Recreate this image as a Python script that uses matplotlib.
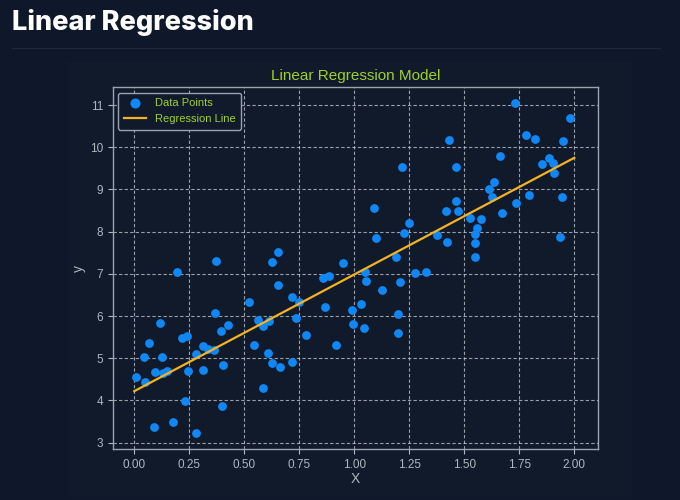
import matplotlib
matplotlib.use("Agg")
import matplotlib.pyplot as plt
from matplotlib.patches import Rectangle
from matplotlib.lines import Line2D

# ---- data ----
x_points = [
    0.370, 0.627, 0.947, 0.195, 0.652, 0.858, 0.883, 0.520, 0.719, 0.750,
    0.867, 0.990, 0.365, 0.117, 0.427, 0.392, 0.562, 0.611, 0.586, 0.734,
    0.780, 0.215, 0.238, 0.068, 0.312, 0.336, 0.364, 0.544, 0.915, 0.042,
    0.127, 0.280, 0.609, 0.010, 0.049, 0.093, 0.132, 0.149, 0.245, 0.312,
    0.402, 0.625, 0.663, 0.715, 0.584, 0.232, 0.399, 0.177, 0.088, 0.282,
    0.652, 1.250, 1.227, 1.097, 1.374, 1.189, 1.050, 1.277, 1.326, 1.053,
    1.208, 1.126, 1.032, 1.199, 0.993, 1.043, 1.199,
    1.730, 1.979, 1.430, 1.780, 1.823, 1.947, 1.217, 1.463, 1.662, 1.851,
    1.883, 1.905, 1.909, 1.636, 1.610, 1.624, 1.793, 1.943, 1.736, 1.670,
    1.088, 1.463, 1.417, 1.471, 1.527, 1.577, 1.556, 1.549, 1.420, 1.549,
    1.549, 1.936,
]
y_points = [
    7.30, 7.27, 7.25, 7.04, 6.74, 6.91, 6.95, 6.34, 6.45, 6.34,
    6.21, 6.14, 6.08, 5.83, 5.79, 5.65, 5.91, 5.89, 5.76, 5.96,
    5.56, 5.49, 5.53, 5.36, 5.29, 5.23, 5.20, 5.31, 5.32, 5.04,
    5.04, 5.10, 5.13, 4.56, 4.43, 4.68, 4.66, 4.70, 4.70, 4.72,
    4.85, 4.89, 4.80, 4.91, 4.30, 3.98, 3.87, 3.48, 3.36, 3.24,
    7.51, 8.21, 7.96, 7.86, 7.91, 7.40, 7.05, 7.01, 7.05, 6.82,
    6.80, 6.62, 6.28, 6.04, 5.80, 5.72, 5.61,
    11.04, 10.70, 10.18, 10.30, 10.20, 10.14, 9.53, 9.53, 9.79, 9.60,
    9.74, 9.63, 9.40, 9.18, 9.00, 8.83, 8.86, 8.83, 8.67, 8.45,
    8.56, 8.72, 8.50, 8.49, 8.32, 8.29, 8.09, 7.95, 7.75, 7.73,
    7.40, 7.88,
]
line_x = [0.0, 2.0]
line_y = [4.22, 9.75]

page_title = "Linear Regression"
chart_title = "Linear Regression Model"
x_label = "X"
y_label = "y"
legend_labels = ["Data Points", "Regression Line"]
x_ticks = [0.00, 0.25, 0.50, 0.75, 1.00, 1.25, 1.50, 1.75, 2.00]
y_ticks = [3, 4, 5, 6, 7, 8, 9, 10, 11]

# ---- style ----
PAGE_BG = "#0f172a"
PANEL_BG = "#111a2b"
GRID = "#c8cdd4"
TEXT_GRAY = "#aeb6c0"
GREEN = "#9fd12a"
BLUE = "#0f87f5"
ORANGE = "#f3b323"

plt.rcParams['font.family'] = ['Liberation Sans', 'DejaVu Sans']

W, H = 680, 500
fig = plt.figure(figsize=(W / 100, H / 100), dpi=100)
fig.patch.set_facecolor(PAGE_BG)

# page title
fig.text(12 / W, 1 - 22 / H, page_title, color="white", fontsize=19.5,
         fontweight="heavy", family=["Inter", "DejaVu Sans"],
         ha="left", va="center")
# separator line
fig.add_artist(Line2D([12 / W, 660 / W], [1 - 48 / H, 1 - 48 / H],
                      transform=fig.transFigure, color="#1f2a3c", lw=0.8))
# chart panel
fig.add_artist(Rectangle((68 / W, 1 - 497 / H), (632 - 68) / W, (497 - 62) / H,
                         transform=fig.transFigure, facecolor=PANEL_BG,
                         edgecolor="none", zorder=0))

ax = fig.add_axes([112.7 / W, 1 - 449 / H, (598.3 - 112.7) / W, (449 - 87.3) / H])
ax.set_facecolor(PANEL_BG)

ax.scatter(x_points, y_points, s=40, color=BLUE, label=legend_labels[0],
           zorder=3, linewidths=0)
ax.plot(line_x, line_y, color=ORANGE, lw=1.6, label=legend_labels[1], zorder=4)

ax.set_xticks(x_ticks)
ax.set_xticklabels([f"{t:.2f}" for t in x_ticks])
ax.set_yticks(y_ticks)
ax.set_xlim(-0.098, 2.109)
ax.set_ylim(2.85, 11.42)

ax.grid(True, color=GRID, linestyle=(0, (3, 2)), linewidth=0.8, alpha=0.75)
ax.set_axisbelow(True)
for sp in ax.spines.values():
    sp.set_color("#9aa3ae")
    sp.set_linewidth(1.0)
ax.tick_params(colors=TEXT_GRAY, labelsize=8.5, length=3.5, width=0.8)
for lab in ax.get_xticklabels() + ax.get_yticklabels():
    lab.set_color(TEXT_GRAY)

ax.set_title(chart_title, color=GREEN, fontsize=11, pad=5)
ax.set_xlabel(x_label, color=TEXT_GRAY, fontsize=10, labelpad=1)
ax.set_ylabel(y_label, color=TEXT_GRAY, fontsize=10, labelpad=3)

leg = ax.legend(loc="upper left", fontsize=8, facecolor=PANEL_BG,
                edgecolor="#9aa3ae", framealpha=1.0, borderpad=0.5,
                handlelength=2.0, markerscale=1.15)
for t in leg.get_texts():
    t.set_color(GREEN)

fig.savefig("out.png", dpi=100, facecolor=PAGE_BG)
